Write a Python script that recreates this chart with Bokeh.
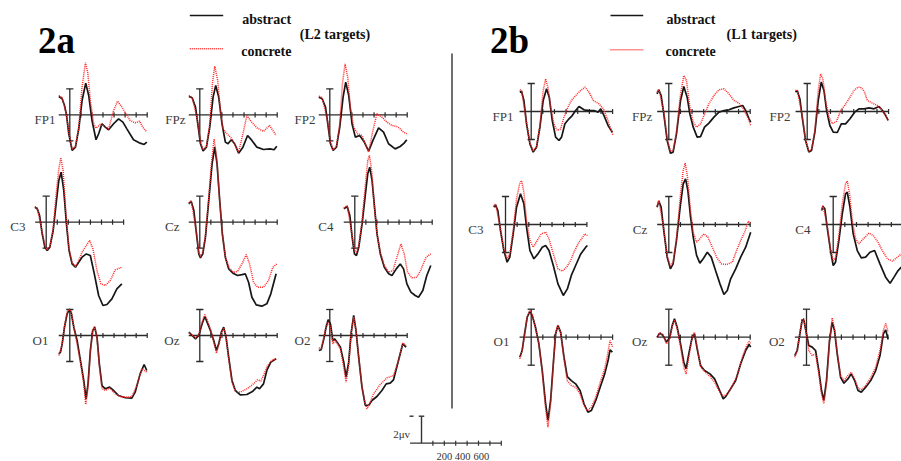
from bokeh.plotting import figure
from bokeh.models import Range1d
from bokeh.embed import file_html
from bokeh.resources import INLINE
from bokeh.core.properties import value

# ---------------- data (ms, microvolts) ----------------
# 2a : L2 targets
l2_fp1_abs_t = [-99,-69,-48,-30,-9,21,51,81,111,144,171,201,237,261,291,321,351,396,441,480,516,576,636,672,696]
l2_fp1_abs_v = [1.41,1.23,0.72,0,-1.46,-2.74,-2.49,-1.08,1.10,2.44,1.49,-0.44,-1.92,-1.46,-0.69,-0.95,-1.15,-0.69,-0.31,-0.56,-1.08,-1.92,-2.18,-2.28,-2.10]
l2_fp1_con_t = [-99,-69,-30,-9,21,51,81,111,141,162,186,216,237,276,321,351,396,432,471,501,546,591,630,660,696]
l2_fp1_con_v = [1.49,1.31,0,-1.33,-2.62,-2.44,-0.95,2.13,4.0,3.28,1.10,-0.69,-1.03,-0.74,-0.90,-1.08,0.33,1.05,0.59,0.15,-0.44,-0.62,-0.49,-0.95,-1.33]

l2_fpz_abs_t = [-99,-69,-39,-18,6,30,60,90,120,144,171,201,231,255,285,315,351,390,432,471,516,576,636,672,696]
l2_fpz_abs_v = [1.41,1.31,0.59,-0.69,-2.23,-2.79,-2.49,-0.95,1.36,2.26,1.36,-0.69,-2.10,-2.23,-1.92,-2.23,-2.95,-2.49,-1.59,-1.97,-2.49,-2.67,-2.62,-2.69,-2.41]
l2_fpz_con_t = [-99,-69,-18,6,30,60,90,114,135,162,186,210,246,291,321,351,390,426,462,516,576,630,660,690]
l2_fpz_con_v = [1.49,1.36,-0.56,-2.10,-2.69,-2.44,-0.69,2.38,3.74,2.64,0.33,-1.08,-1.46,-1.85,-2.36,-2.87,-1.46,-0.05,-0.49,-1.00,-1.28,-0.82,-1.20,-1.59]

l2_fp2_abs_t = [-99,-69,-39,-18,6,30,60,90,120,144,171,201,231,270,312,351,390,441,486,531,591,636,672,696]
l2_fp2_abs_v = [1.36,1.23,0.59,-0.69,-2.23,-2.74,-2.49,-0.95,1.36,2.51,1.49,-0.69,-1.72,-1.59,-2.10,-2.79,-1.97,-1.00,-1.33,-2.23,-2.62,-2.44,-2.18,-1.92]
l2_fp2_con_t = [-99,-69,-18,6,30,60,90,114,138,162,186,216,252,291,321,351,390,426,471,516,561,606,636,666,696]
l2_fp2_con_v = [1.44,1.31,-0.56,-2.10,-2.69,-2.44,-0.69,2.38,3.92,2.90,0.59,-0.95,-1.46,-1.59,-2.23,-2.87,-1.21,0.08,-0.18,-0.56,-0.82,-0.90,-1.08,-1.33,-1.46]

l2_c3_abs_t = [-102,-81,-60,-36,-12,9,33,63,93,114,135,159,183,207,234,264,294,324,363,399,435,474,513,549,594,639,684]
l2_c3_abs_v = [1.15,1.03,0.51,-0.90,-1.92,-2.18,-1.92,-0.64,1.67,3.21,3.85,2.44,-0.13,-2.18,-3.21,-3.46,-3.08,-2.69,-2.44,-2.56,-3.97,-5.64,-6.41,-6.33,-5.90,-5.13,-4.74]
l2_c3_con_t = [-102,-81,-36,-12,9,33,63,93,114,132,153,177,204,234,264,294,324,363,393,423,459,495,534,579,624,684]
l2_c3_con_v = [1.21,1.08,-0.77,-1.79,-2.13,-1.87,-0.51,2.44,4.10,4.95,3.97,0.90,-1.92,-3.08,-3.41,-2.95,-2.31,-1.79,-1.41,-2.05,-3.72,-4.74,-4.87,-4.49,-3.67,-3.46]

l2_cz_abs_t = [-99,-78,-54,-30,-9,6,27,51,81,111,135,156,180,204,231,261,300,342,381,411,441,471,510,561,606,642,690]
l2_cz_abs_v = [1.41,1.62,0.90,-0.90,-2.44,-2.74,-2.44,-1.15,1.67,4.49,5.77,4.49,1.67,-0.90,-2.69,-3.59,-3.92,-4.10,-4.03,-3.97,-4.62,-5.77,-6.36,-6.46,-6.28,-5.51,-3.97]
l2_cz_con_t = [-99,-78,-30,-9,6,27,51,81,105,129,153,177,204,231,270,306,342,381,420,450,486,522,576,621,660,696]
l2_cz_con_v = [1.46,1.67,-0.77,-2.31,-2.64,-2.31,-1.03,1.92,4.49,6.40,5.0,1.92,-0.90,-2.69,-3.59,-3.85,-3.77,-3.21,-2.49,-3.21,-4.62,-5.00,-5.00,-4.49,-3.46,-3.21]

l2_c4_abs_t = [-99,-69,-45,-24,-3,15,36,66,96,117,135,156,180,201,231,267,306,336,375,411,441,471,507,546,576,615,651,687]
l2_c4_abs_v = [1.03,1.21,0.51,-1.15,-2.44,-2.56,-1.92,-0.13,2.18,3.72,4.23,3.21,1.03,-0.90,-2.44,-3.46,-3.97,-4.10,-3.59,-3.21,-3.59,-4.74,-5.38,-5.64,-5.77,-5.26,-4.10,-3.33]
l2_c4_con_t = [-99,-69,-24,-3,15,36,66,96,117,132,153,177,201,231,267,306,345,381,417,447,477,516,561,597,645,687]
l2_c4_con_v = [1.10,1.28,-1.03,-2.18,-2.31,-1.79,0.13,2.95,4.74,5.13,3.97,1.15,-0.90,-2.31,-3.33,-3.85,-3.72,-2.69,-1.67,-2.44,-3.85,-4.28,-4.23,-3.67,-2.69,-2.44]

l2_o1_abs_t = [-99,-84,-69,-48,-24,-6,12,36,66,96,126,147,165,186,207,225,246,267,291,321,360,396,441,501,561,591,636,672,696]
l2_o1_abs_v = [-1.41,-1.28,-0.64,0.64,1.67,1.97,1.79,0.64,-0.38,-1.92,-3.46,-4.87,-3.72,-1.15,0.38,0.64,-0.13,-2.18,-3.85,-4.10,-3.97,-4.23,-4.62,-4.79,-4.82,-4.36,-2.95,-2.23,-2.69]
l2_o1_con_t = [-99,-69,-48,-24,-6,12,36,96,126,144,162,186,207,225,246,267,291,321,360,411,471,531,561,606,651,696]
l2_o1_con_v = [-1.54,-0.69,0.69,1.79,2.05,1.87,0.69,-2.05,-3.72,-5.31,-4.23,-1.28,0.44,0.69,-0.13,-2.31,-4.10,-4.23,-4.03,-4.49,-4.74,-4.74,-4.69,-3.85,-2.56,-2.82]

l2_oz_abs_t = [-99,-69,-39,-9,21,45,66,96,126,150,171,195,216,237,261,291,321,366,426,480,516,540,576,606,642,690]
l2_oz_abs_v = [0.26,0,-0.26,0,0.90,1.46,1.03,0.38,-0.38,-1.15,-0.64,0.26,0.64,-0.13,-1.67,-3.46,-4.23,-4.56,-4.54,-4.28,-3.97,-4.10,-3.72,-2.69,-2.05,-1.79]
l2_oz_con_t = [-99,-69,-39,-9,21,45,66,96,126,150,171,195,216,237,261,291,321,366,426,486,522,552,582,612,651,690]
l2_oz_con_v = [0.21,0.05,-0.21,0.08,1.03,1.62,1.21,0.51,-0.51,-1.36,-0.77,0.18,0.59,0,-1.79,-3.59,-4.28,-4.36,-4.10,-3.72,-3.41,-3.51,-2.95,-2.31,-1.92,-1.79]

l2_o2_abs_t = [-99,-78,-54,-33,-15,6,27,45,66,96,126,147,171,192,216,237,261,291,321,351,381,426,471,510,546,576,621,660,690]
l2_o2_abs_v = [-1.15,-1.10,-0.26,0.64,1.21,0.90,-0.38,-0.26,-0.51,-0.90,-2.05,-3.21,-2.05,0.13,1.54,0.38,-1.67,-3.97,-5.38,-5.38,-5.0,-4.69,-4.23,-3.72,-3.67,-3.41,-1.92,-0.64,-0.90]
l2_o2_con_t = [-99,-78,-54,-33,-15,6,27,45,66,96,126,147,171,192,216,237,261,291,321,336,360,396,456,516,576,621,660,690]
l2_o2_con_v = [-0.95,-1.03,-0.13,0.77,1.03,0.64,-0.64,-0.38,-0.59,-1.03,-2.44,-3.59,-2.31,0.13,1.41,0.38,-1.67,-3.97,-5.26,-5.64,-5.26,-4.49,-3.77,-3.26,-3.08,-1.92,-0.59,-0.77]

# 2b : L1 targets
l1_fp1_abs_t = [-98,-83,-63,-40,-11,17,46,75,103,132,155,181,210,239,261,290,325,353,382,411,454,497,540,575,598,626,661,698]
l1_fp1_abs_v = [1.38,1.45,0.79,-0.88,-2.31,-2.90,-2.55,-1.12,0.79,1.62,1.02,-0.64,-1.83,-2.07,-1.83,-0.88,-0.52,-0.29,0.07,0.36,0.12,0.07,0.07,-0.05,0.19,-0.29,-1.0,-1.48]
l1_fp1_con_t = [-98,-83,-40,-11,17,46,75,103,124,147,167,195,224,253,282,310,345,382,425,463,497,534,583,621,655,678,704]
l1_fp1_con_v = [1.55,1.50,-0.76,-2.26,-2.83,-2.50,-1.0,1.50,2.33,1.62,0.31,-0.88,-1.36,-1.24,-0.40,0.19,0.79,1.14,1.50,1.74,1.38,0.79,0.55,0.19,-0.52,-1.12,-1.71]

l1_fpz_abs_t = [-101,-86,-66,-43,-14,14,37,66,101,129,158,181,210,244,273,307,345,388,431,474,517,560,603,635,661,690,704]
l1_fpz_abs_v = [1.26,1.55,1.14,-0.17,-2.07,-2.98,-2.90,-1.60,0.79,1.79,1.02,-0.17,-1.12,-1.83,-1.79,-1.12,-0.83,-0.40,-0.05,0.07,0.12,0.26,0.36,0.43,0.07,-0.52,-0.76]
l1_fpz_con_t = [-101,-86,-43,-14,14,37,66,101,129,152,181,210,239,273,302,345,388,431,474,517,560,603,641,670,690,704]
l1_fpz_con_v = [1.36,1.60,-0.05,-1.95,-2.83,-2.79,-1.48,1.26,2.57,2.21,0.31,-0.76,-1.12,-0.88,-0.29,0.55,1.14,1.55,1.62,1.26,0.79,0.60,0.19,-0.29,-0.64,-1.0]

l1_fp2_abs_t = [-101,-86,-63,-43,-14,14,37,66,95,121,144,167,195,224,259,293,330,368,408,445,489,532,575,618,647,675,696]
l1_fp2_abs_v = [1.38,1.50,0.90,-0.40,-2.07,-2.90,-2.79,-1.48,0.79,2.10,1.50,0.07,-1.0,-1.48,-1.50,-0.88,-0.88,-0.52,-0.05,0.19,0.19,0.26,0.19,0.36,0.07,-0.29,-0.64]
l1_fp2_con_t = [-101,-86,-43,-14,14,37,66,95,115,135,158,187,216,253,287,316,359,402,437,458,490,517,560,603,647,675,696]
l1_fp2_con_v = [1.50,1.55,-0.29,-2.02,-2.83,-2.74,-1.36,1.50,2.69,2.33,0.79,-0.40,-0.88,-0.69,0.07,0.36,0.90,1.50,1.74,1.74,1.45,0.79,0.60,0.43,0.07,-0.29,-0.64]

l1_c3_abs_t = [-101,-86,-66,-43,-14,14,37,66,95,129,158,181,210,244,279,316,345,374,411,451,497,532,566,603,647,690,704]
l1_c3_abs_v = [1.24,1.40,1.0,-0.43,-1.86,-2.69,-2.33,-0.67,1.24,2.19,1.48,-0.19,-1.86,-2.45,-2.10,-1.62,-1.50,-1.86,-2.93,-4.24,-5.07,-4.60,-3.64,-2.93,-2.10,-1.62,-1.50]
l1_c3_con_t = [-101,-86,-43,-14,14,37,66,95,121,138,158,181,210,239,273,307,345,374,411,451,489,526,560,595,632,661,681,704]
l1_c3_con_v = [1.29,1.48,-0.31,-1.74,-2.45,-2.10,-0.43,1.83,2.90,3.14,2.31,0.29,-1.14,-1.62,-1.14,-0.67,-0.55,-1.02,-2.10,-3.17,-3.33,-3.05,-2.57,-1.86,-1.26,-0.95,-0.67,-0.79]

l1_cz_abs_t = [-101,-86,-66,-43,-14,14,37,66,101,124,144,164,187,210,239,267,296,331,365,402,440,474,503,532,575,618,661,704]
l1_cz_abs_v = [1.24,1.67,1.24,-0.43,-2.33,-3.17,-2.81,-1.14,1.48,2.90,3.26,2.43,0.52,-0.90,-2.21,-2.76,-2.45,-1.98,-2.33,-3.29,-4.24,-5.0,-4.71,-3.88,-3.17,-2.33,-1.62,-0.55]
l1_cz_con_t = [-101,-86,-43,-14,14,37,66,101,124,141,161,187,210,239,267,302,336,374,411,451,497,546,583,618,652,684,704]
l1_cz_con_v = [1.29,1.71,-0.31,-2.21,-3.0,-2.69,-1.02,2.19,3.86,4.38,3.38,1.0,-0.55,-1.26,-1.02,-0.67,-0.90,-1.62,-2.33,-2.81,-2.86,-2.69,-1.86,-1.14,-0.55,0.24,0.05]

l1_c4_abs_t = [-100,-88,-72,-52,-23,0,20,49,78,106,121,144,172,207,241,279,316,356,402,451,489,523,558,586]
l1_c4_abs_v = [1.0,1.29,1.12,-0.19,-1.86,-2.93,-2.69,-1.14,0.76,2.19,2.31,1.24,-0.67,-1.86,-2.38,-2.33,-1.98,-1.86,-2.81,-3.76,-4.19,-3.76,-3.29,-3.05]
l1_c4_con_t = [-100,-88,-52,-23,0,20,49,78,106,121,141,164,193,221,259,307,345,385,422,466,509,552,586]
l1_c4_con_v = [1.05,1.36,-0.07,-1.74,-2.57,-2.38,-0.79,1.48,2.90,3.10,2.19,0.29,-1.02,-1.38,-1.02,-0.62,-0.79,-1.26,-1.86,-2.45,-2.62,-2.33,-2.10]

l1_o1_abs_t = [-98,-78,-57,-34,-11,9,37,66,95,124,144,167,190,210,230,253,282,310,345,382,420,454,488,517,555,598,632,661,678,698]
l1_o1_abs_v = [-1.43,-0.95,0.24,1.43,1.86,1.55,0.71,-0.48,-2.38,-4.76,-5.95,-4.52,-1.90,0.24,0.83,0.36,-1.43,-2.81,-3.10,-3.33,-3.81,-4.76,-5.36,-5.24,-4.52,-3.45,-2.62,-1.67,-0.90,-1.07]
l1_o1_con_t = [-98,-78,-34,-11,9,66,95,124,144,167,190,210,230,253,282,310,345,382,420,454,483,517,555,598,632,655,678,701]
l1_o1_con_v = [-1.55,-1.0,1.48,1.90,1.62,-0.43,-2.50,-5.12,-6.43,-4.76,-1.95,0.29,0.90,0.29,-1.55,-3.10,-3.45,-3.57,-4.05,-4.88,-5.24,-5.0,-4.29,-3.10,-2.26,-1.31,-0.24,-0.71]

l1_oz_abs_t = [-101,-78,-49,-20,9,29,49,72,101,129,149,172,201,221,244,273,307,354,394,431,468,489,532,575,618,661,690,704]
l1_oz_abs_v = [0,0.29,0.12,-0.36,0,0.83,1.31,0.71,-0.48,-1.79,-2.26,-1.19,0,0.24,-0.83,-2.02,-2.38,-2.62,-2.98,-3.69,-4.40,-4.24,-3.69,-3.10,-1.90,-0.95,-0.52,-0.71]
l1_oz_con_t = [-101,-78,-49,-20,9,29,49,72,101,129,149,172,201,221,244,273,307,354,394,431,468,503,546,589,632,670,690,704]
l1_oz_con_v = [-0.05,0.33,0.17,-0.48,-0.12,0.76,1.24,0.60,-0.67,-2.14,-2.62,-1.43,0,0.36,-0.71,-2.10,-2.43,-2.81,-3.21,-3.81,-4.24,-4.05,-3.45,-2.74,-1.43,-0.60,-0.29,-0.48]

l1_o2_abs_t = [-101,-80,-57,-37,-23,0,20,49,78,106,129,149,172,198,221,241,264,293,322,356,385,414,443,471,509,552,595,632,661,681,701]
l1_o2_abs_v = [-1.31,-0.95,0.24,1.24,1.24,0.24,-0.60,-0.71,-0.95,-2.38,-3.81,-4.52,-3.10,-0.24,1.07,0.48,-1.19,-2.86,-3.29,-2.98,-2.62,-3.10,-3.81,-3.93,-3.57,-3.10,-2.38,-1.31,0.24,0.52,-0.12]
l1_o2_con_t = [-101,-80,-57,-37,-23,0,20,49,78,106,129,149,172,198,221,241,264,293,322,356,385,414,443,471,509,552,595,632,661,681,701]
l1_o2_con_v = [-1.43,-1.0,0.29,1.31,1.31,0.12,-0.95,-1.31,-1.19,-2.62,-4.05,-4.76,-3.33,-0.24,1.38,0.60,-1.07,-2.74,-3.10,-2.74,-2.50,-2.98,-3.62,-3.76,-3.45,-2.90,-2.14,-0.95,0.48,1.0,0.36]

axis_ticks_ms = [100, 200, 300, 400, 500, 600, 700]
bar_uv = 2
scale_labels = ["200", "400", "600"]
scale_label_ms = [200, 400, 600]
scale_uv_text = "2μv"
legend_labels = ["abstract", "concrete"]
section_titles = ["2a", "2b"]
section_notes = ["(L2 targets)", "(L1 targets)"]

# ---------------- layout (pixel positions in the 901x461 page) ----------------
X_LO, X_HI, Y_LO, Y_HI = 0, 901, 0, 461
SERIF = value("Liberation Serif")
BLACK = "#161616"
RED = "#ff2626"
AXC = "#2a2a2a"

p = figure(width=X_HI - X_LO, height=Y_HI - Y_LO, output_backend="svg", toolbar_location=None,
           x_range=Range1d(X_LO, X_HI), y_range=Range1d(Y_HI, Y_LO),
           x_axis_location=None, y_axis_location=None, min_border=0)
p.xgrid.visible = False
p.ygrid.visible = False
p.outline_line_color = None
p.background_fill_color = "white"
p.border_fill_color = "white"

xranges, yranges = {}, {}

# (key, label, x of time 0, y of 0 uV, (px per ms, px per uV), label right x, data)
S2A = (0.1106, 13.0)
S2B = (0.1163, 14.0)
panels = [
    ("a_fp1", "FP1", 69.3, 114.3, S2A, 55, (l2_fp1_abs_t, l2_fp1_abs_v, l2_fp1_con_t, l2_fp1_con_v)),
    ("a_fpz", "FPz", 199.3, 114.3, S2A, 185, (l2_fpz_abs_t, l2_fpz_abs_v, l2_fpz_con_t, l2_fpz_con_v)),
    ("a_fp2", "FP2", 329.3, 114.3, S2A, 315, (l2_fp2_abs_t, l2_fp2_abs_v, l2_fp2_con_t, l2_fp2_con_v)),
    ("a_c3", "C3", 45.7, 221.7, S2A, 25, (l2_c3_abs_t, l2_c3_abs_v, l2_c3_con_t, l2_c3_con_v)),
    ("a_cz", "Cz", 199.3, 221.7, S2A, 179, (l2_cz_abs_t, l2_cz_abs_v, l2_cz_con_t, l2_cz_con_v)),
    ("a_c4", "C4", 354.3, 221.7, S2A, 333, (l2_c4_abs_t, l2_c4_abs_v, l2_c4_con_t, l2_c4_con_v)),
    ("a_o1", "O1", 69.3, 335.0, S2A, 48, (l2_o1_abs_t, l2_o1_abs_v, l2_o1_con_t, l2_o1_con_v)),
    ("a_oz", "Oz", 199.3, 335.0, S2A, 179, (l2_oz_abs_t, l2_oz_abs_v, l2_oz_con_t, l2_oz_con_v)),
    ("a_o2", "O2", 329.3, 335.0, S2A, 310, (l2_o2_abs_t, l2_o2_abs_v, l2_o2_con_t, l2_o2_con_v)),
    ("b_fp1", "FP1", 530.7, 111.0, S2B, 513, (l1_fp1_abs_t, l1_fp1_abs_v, l1_fp1_con_t, l1_fp1_con_v)),
    ("b_fpz", "FPz", 668.3, 111.0, S2B, 651.7, (l1_fpz_abs_t, l1_fpz_abs_v, l1_fpz_con_t, l1_fpz_con_v)),
    ("b_fp2", "FP2", 806.7, 111.0, S2B, 790, (l1_fp2_abs_t, l1_fp2_abs_v, l1_fp2_con_t, l1_fp2_con_v)),
    ("b_c3", "C3", 505.0, 224.0, S2B, 483, (l1_c3_abs_t, l1_c3_abs_v, l1_c3_con_t, l1_c3_con_v)),
    ("b_cz", "Cz", 668.3, 224.0, S2B, 646.7, (l1_cz_abs_t, l1_cz_abs_v, l1_cz_con_t, l1_cz_con_v)),
    ("b_c4", "C4", 832.7, 224.0, S2B, 810, (l1_c4_abs_t, l1_c4_abs_v, l1_c4_con_t, l1_c4_con_v)),
    ("b_o1", "O1", 530.7, 336.7, S2B, 509, (l1_o1_abs_t, l1_o1_abs_v, l1_o1_con_t, l1_o1_con_v)),
    ("b_oz", "Oz", 668.3, 336.7, S2B, 646.7, (l1_oz_abs_t, l1_oz_abs_v, l1_oz_con_t, l1_oz_con_v)),
    ("b_o2", "O2", 806.0, 336.7, S2B, 784.3, (l1_o2_abs_t, l1_o2_abs_v, l1_o2_con_t, l1_o2_con_v)),
]


def add_ranges(key, X0, Y0, sx, sy):
    xranges["x_" + key] = Range1d((X_LO - X0) / sx, (X_HI - X0) / sx)
    yranges["y_" + key] = Range1d((Y0 - Y_HI) / sy, (Y0 - Y_LO) / sy)
    return dict(x_range_name="x_" + key, y_range_name="y_" + key)


lab_x, lab_y, lab_t = [], [], []
for key, label, X0, Y0, (sx, sy), lx, (at, av, ct, cv) in panels:
    rn = add_ranges(key, X0, Y0, sx, sy)
    tk = 2.6 / sy
    cw = 3.6 / sx
    # time axis with ticks
    p.line([-100, 700], [0, 0], line_color=AXC, line_width=1.3, **rn)
    p.segment(x0=axis_ticks_ms, y0=[-tk] * 7, x1=axis_ticks_ms, y1=[tk] * 7,
              line_color=AXC, line_width=1.2, **rn)
    # amplitude bar with caps
    p.segment(x0=[0, -cw, -cw], y0=[-bar_uv, bar_uv, -bar_uv], x1=[0, cw, cw], y1=[bar_uv, bar_uv, -bar_uv],
              line_color=AXC, line_width=1.3, **rn)
    # waveforms
    p.line(at, av, line_color=BLACK, line_width=1.7, **rn)
    p.line(ct, cv, line_color=RED, line_width=1.5, line_dash="1 1", **rn)
    lab_x.append(lx)
    lab_y.append(Y0 + 4.5)
    lab_t.append(label)

p.text(x=lab_x, y=lab_y, text=lab_t, text_font=SERIF, text_font_size="13px",
       text_color="#3c3c3c", text_align="right", text_baseline="alphabetic")

# scale bar
rn = add_ranges("scale", 421.0, 442.7, 0.114, 13.5)
p.line([-100, 700], [0, 0], line_color="#333333", line_width=1.3, **rn)
p.segment(x0=axis_ticks_ms, y0=[-0.19] * 7, x1=axis_ticks_ms, y1=[0.19] * 7,
          line_color="#333333", line_width=1.2, **rn)
p.segment(x0=[0, -24, -105], y0=[0, bar_uv, bar_uv], x1=[0, 24, -70], y1=[bar_uv, bar_uv, bar_uv],
          line_color="#333333", line_width=1.4, **rn)
p.text(x=scale_label_ms, y=[-1.0] * 3, text=scale_labels, x_offset=[0, -4.5, -8.5],
       text_font=SERIF, text_font_size="10.5px", text_color="#333333",
       text_align="center", text_baseline="alphabetic", **rn)
p.text(x=[-100], y=[0.65], text=[scale_uv_text], text_font=SERIF, text_font_size="11px",
       text_color="#333333", text_align="right", text_baseline="alphabetic", **rn)

p.extra_x_ranges = xranges
p.extra_y_ranges = yranges

# separator between 2a and 2b
p.segment(x0=[451.5], y0=[53], x1=[451.5], y1=[408], line_color="#333333", line_width=1.4)

# titles
p.text(x=[37.5, 489.5], y=[40, 40], text=section_titles, text_font=SERIF, text_font_size="37px",
       text_font_style="bold", text_color="black", text_align="left", text_baseline="alphabetic")

# legends
p.segment(x0=[189.3, 610.0], y0=[15, 15], x1=[222.7, 642.7], y1=[15, 15], line_color=BLACK, line_width=1.5)
p.segment(x0=[189.3, 610.0], y0=[48.3, 49.3], x1=[222.7, 642.7], y1=[48.3, 49.3], line_color=RED,
          line_width=1.5, line_dash="1 1")
p.text(x=[241.7, 240.7, 666.0, 665.0], y=[18.5, 50.7, 18.5, 50.7],
       text=[legend_labels[0], legend_labels[1], legend_labels[0], legend_labels[1]],
       text_font=SERIF, text_font_size="14px", text_font_style="bold", text_color="#111111",
       text_align="left", text_baseline="alphabetic")
p.text(x=[299.3, 726.0], y=[33.5, 33.5], text=section_notes, text_font=SERIF, text_font_size="14px",
       text_font_style="bold", text_color="#111111", text_align="left", text_baseline="alphabetic")

open("out.html", "w").write(file_html(p, INLINE))
